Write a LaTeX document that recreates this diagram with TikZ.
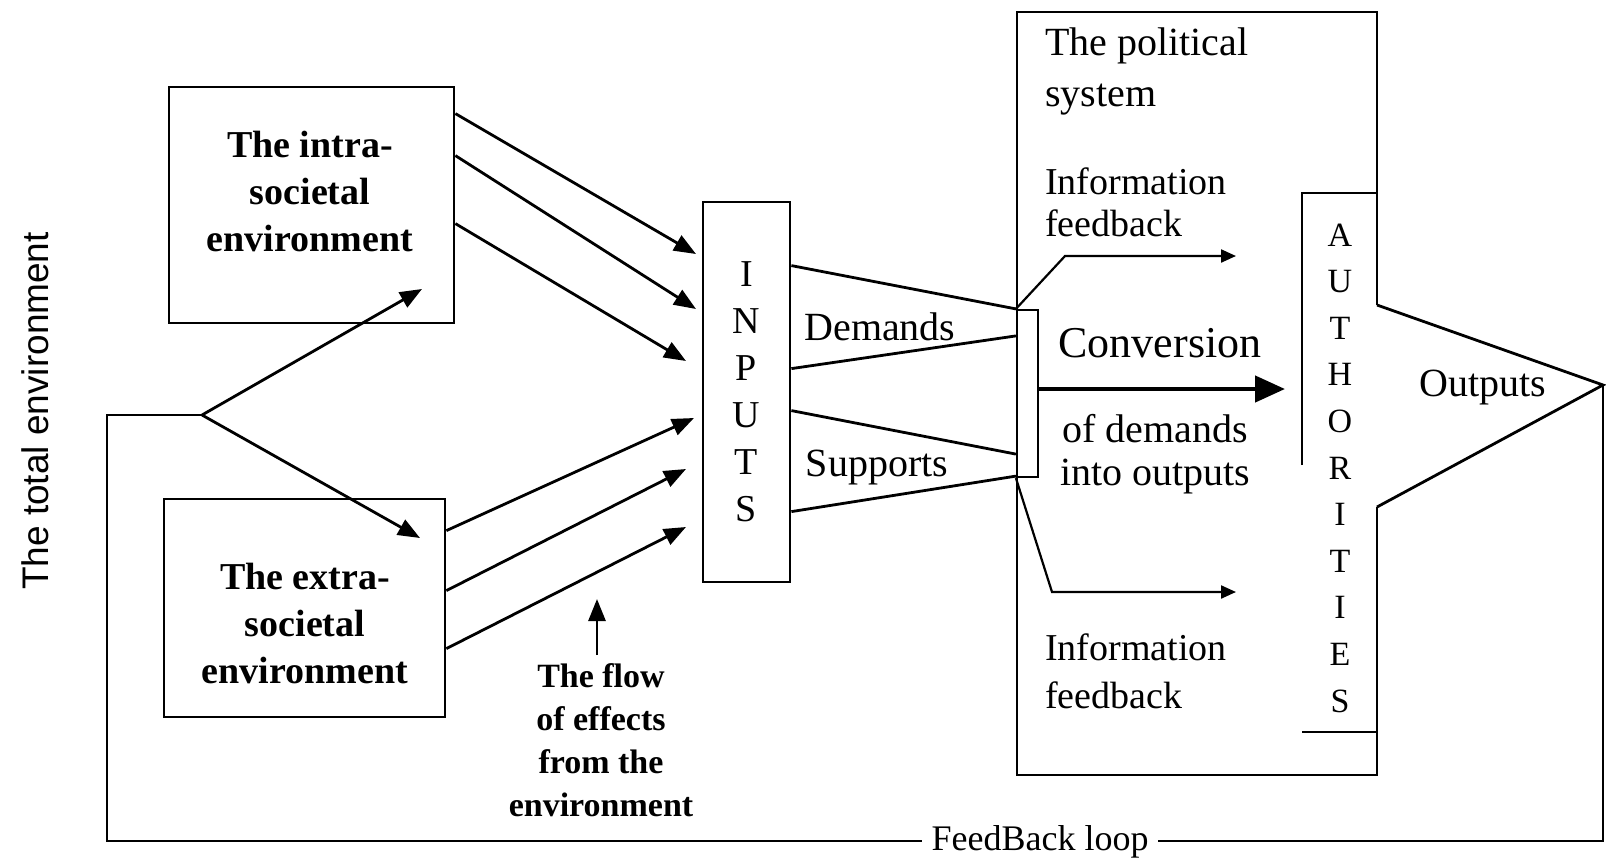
\documentclass[tikz,border=0pt]{standalone}
\usepackage{fontspec}
\setmainfont{Liberation Serif}
\newfontfamily\sansf{Liberation Sans}
\usetikzlibrary{arrows.meta,calc}
\begin{document}
\begin{tikzpicture}[x=1pt,y=-1pt,
  ln/.style={line width=2.8pt,line join=miter},
  box/.style={draw,line width=2.8pt,inner sep=0pt},
  arr/.style={line width=2.8pt,-{Triangle[length=22pt,width=17pt]}},
  bigarr/.style={line width=4.5pt,-{Triangle[length=30pt,width=26pt]}},
  tharr/.style={line width=2.2pt,line join=miter,-{Triangle[length=15pt,width=13pt]}},
  bt/.style={align=center,font=\bfseries\fontsize{38}{47}\selectfont,inner sep=0pt},
  rt/.style={font=\fontsize{40}{46}\selectfont,inner sep=0pt}]
\useasboundingbox (0,0) rectangle (1606,857);

% left label
\node[rotate=90,font=\sansf\fontsize{37}{40}\selectfont,inner sep=0pt] (total) at (35,411) {The total environment};

% environment boxes
\node[box,minimum width=285pt,minimum height=236pt] (intra) at (311.5,205) {};
\node[bt] (intratxt) at (310,191) {The intra-\\societal\\environment};
\node[box,minimum width=281pt,minimum height=218pt] (extra) at (304.5,608) {};
\node[bt] (extratxt) at (305,623) {The extra-\\societal\\environment};

% branch of the feedback loop
\coordinate (br) at (202,415);
\coordinate (fl) at (107,415);
\coordinate (ta) at (422,289);
\coordinate (tb) at (420,538);
\draw[arr] (br) -- (ta);
\draw[arr] (br) -- (tb);

% INPUTS
\node[box,minimum width=87pt,minimum height=380pt,align=center,
      font=\fontsize{38}{47}\selectfont] (inputs) at (746.5,392) {I\\N\\P\\U\\T\\S};

% arrows into inputs
\coordinate (i1) at (696,254);
\coordinate (i2) at (696,309);
\coordinate (i3) at (686,361);
\coordinate (e1) at (694,418);
\coordinate (e2) at (686,469);
\coordinate (e3) at (686,527);
\draw[arr] ([yshift=-28pt]intra.north east) -- (i1);
\draw[arr] ([yshift=-70pt]intra.north east) -- (i2);
\draw[arr] ([yshift=-138pt]intra.north east) -- (i3);
\draw[arr] ([yshift=-33pt]extra.north east) -- (e1);
\draw[arr] ([yshift=-93pt]extra.north east) -- (e2);
\draw[arr] ([yshift=-151pt]extra.north east) -- (e3);

% flow of effects
\node[bt,font=\bfseries\fontsize{34}{43}\selectfont] (flowtxt) at (601,740) {The flow\\of effects\\from the\\environment};
\coordinate (fs) at (597,655);
\coordinate (fa) at (597,599);
\draw[arr] (fs) -- (fa);

% conversion box
\node[box,line width=2.2pt,minimum width=21pt,minimum height=167pt] (conv) at (1027.5,393.5) {};

% demands & supports
\draw[ln] ([yshift=-65pt]inputs.north east) -- (conv.north west);
\draw[ln] ([yshift=-168pt]inputs.north east) -- ([yshift=-27pt]conv.north west);
\draw[ln] ([yshift=-210pt]inputs.north east) -- ([yshift=24pt]conv.south west);
\draw[ln] ([yshift=-311pt]inputs.north east) -- ([yshift=2pt]conv.south west);
\node[rt] (dem) at (880,327) {Demands};
\node[rt] (sup) at (877,468) {Supports};

% political system
\coordinate (pa) at (1377,305);
\coordinate (pb) at (1377,12);
\coordinate (pc) at (1017,12);
\coordinate (pd) at (1017,775);
\coordinate (pe) at (1377,775);
\coordinate (pf) at (1377,507);
\coordinate (tip) at (1603,385);
\coordinate (fb) at (1603,841);
\coordinate (fc) at (107,841);
\draw[ln] (pa) -- (pb) -- (pc) -- (pd) -- (pe) -- (pf);
\draw[ln] (pa) -- (tip) -- (pf);

% feedback loop
\draw[ln] (tip) -- (fb) -- (fc) -- (fl) -- (br);
\node[rt,fill=white,inner xsep=10pt,inner ysep=4pt,font=\fontsize{36}{40}\selectfont] (fbl) at (1040,842) {FeedBack loop};

% authorities
\coordinate (aa) at (1302,465);
\coordinate (ab) at (1302,193);
\coordinate (ac) at (1377,193);
\coordinate (ad) at (1302,732);
\coordinate (ae) at (1377,732);
\draw[ln] (aa) -- (ab) -- (ac);
\draw[ln] (ad) -- (ae);
\node[align=center,inner sep=0pt,font=\fontsize{34}{46.6}\selectfont] (auth) at (1340,468) {A\\U\\T\\H\\O\\R\\I\\T\\I\\E\\S};

% conversion arrow and texts
\coordinate (ct) at (1285,389);
\draw[bigarr] ([yshift=4.5pt]conv.east) -- (ct);
\node[rt,font=\fontsize{44}{48}\selectfont] (convtxt) at (1160,343) {Conversion};
\node[rt,align=center,font=\fontsize{40}{43}\selectfont] (convtxt2) at (1155,454) {of demands\\into outputs};
\node[rt] (outp) at (1483,388) {Outputs};

% political texts
\node[rt,anchor=west,align=left,font=\fontsize{40}{51}\selectfont] (poltxt) at (1045,71) {The political\\system};
\node[rt,anchor=west,align=left,font=\fontsize{38}{42}\selectfont] (inf1) at (1045,202) {Information\\feedback};
\node[rt,anchor=west,align=left,font=\fontsize{38}{48}\selectfont] (inf2) at (1045,671) {Information\\feedback};

% information feedback arrows
\coordinate (u1) at (1065,256);
\coordinate (u2) at (1236,256);
\coordinate (l1) at (1052,592);
\coordinate (l2) at (1236,592);
\draw[tharr] (conv.north west) -- (u1) -- (u2);
\draw[tharr] (conv.south west) -- (l1) -- (l2);
\end{tikzpicture}
\end{document}
